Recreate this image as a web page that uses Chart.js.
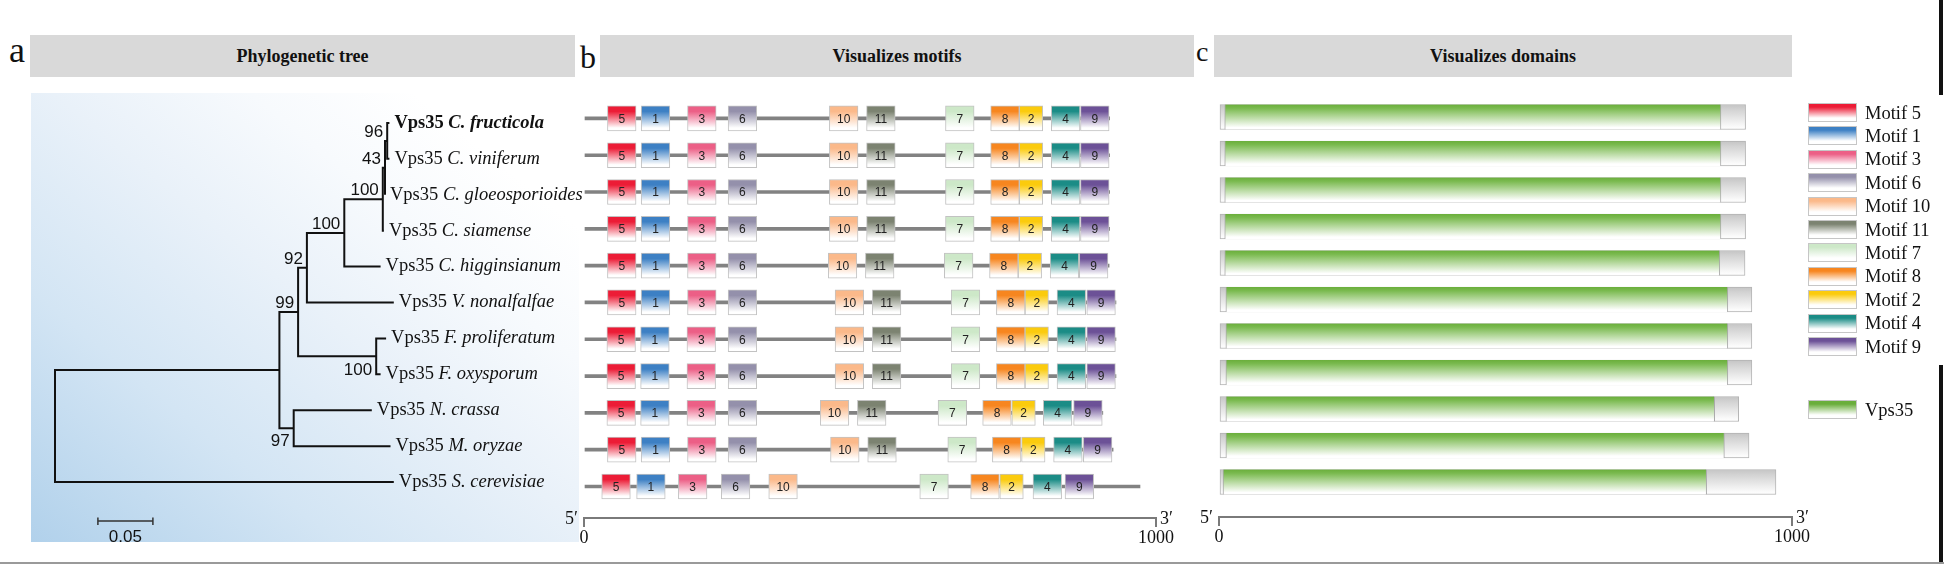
<!DOCTYPE html>
<html><head><meta charset="utf-8">
<script src="https://cdn.jsdelivr.net/npm/chart.js@4.4.1/dist/chart.umd.min.js"></script>
<style>
html,body{margin:0;padding:0;background:#fff;}
#fig{position:relative;width:1944px;height:565px;overflow:hidden;font-family:"Liberation Serif","Times New Roman",serif;color:#111;}
.hdr{position:absolute;top:35px;height:42px;background:#d9d9d9;font-family:"Liberation Serif","Times New Roman",serif;font-weight:bold;font-size:18px;line-height:42px;text-align:center;}
.let{position:absolute;line-height:1;font-family:"Liberation Serif","Times New Roman",serif;}
canvas{position:absolute;top:0;}
.sw{position:absolute;left:1808px;width:49px;height:19px;box-sizing:border-box;border:1px solid #c6c6c6;}
.lt{position:absolute;left:1865px;font-size:18.5px;line-height:20px;white-space:nowrap;font-family:"Liberation Serif","Times New Roman",serif;}
.bar{position:absolute;}
</style></head>
<body>
<div id="fig">
  <div class="let" style="left:9px;top:32px;font-size:36px;">a</div>
  <div class="let" style="left:580px;top:41px;font-size:32px;">b</div>
  <div class="let" style="left:1196px;top:38px;font-size:28px;">c</div>
  <div class="hdr" style="left:30px;width:545px;">Phylogenetic tree</div>
  <div class="hdr" style="left:600px;width:594px;">Visualizes motifs</div>
  <div class="hdr" style="left:1214px;width:578px;">Visualizes domains</div>
  <div class="bar" style="left:31px;top:93px;width:548px;height:449px;background:linear-gradient(to top right,#b1d1eb 0%,#d3e5f4 28%,#e9f1f9 52%,#f7fafd 70%,#ffffff 85%);"></div>
  <canvas id="ct" width="600" height="565" style="left:0px;"></canvas>
  <canvas id="cm" width="660" height="565" style="left:540px;"></canvas>
  <canvas id="cd" width="660" height="565" style="left:1180px;"></canvas>
  <div id="legend"></div>
  <div class="bar" style="left:1939px;top:0;width:4px;height:95px;background:#111;"></div>
  <div class="bar" style="left:1939px;top:365px;width:4px;height:199px;background:#111;"></div>
  <div class="bar" style="left:0;top:562px;width:1944px;height:2px;background:#9a9a9a;"></div>
</div>
<script>
// ---------------- data ----------------
const protein = 'Vps35';
const taxa = ['C. fructicola','C. viniferum','C. gloeosporioides','C. siamense','C. higginsianum',
  'V. nonalfalfae','F. proliferatum','F. oxysporum','N. crassa','M. oryzae','S. cerevisiae'];
const highlightTaxon = 0;
// distance of each tip from the root (substitutions/site)
const tipDepth = [0.304,0.304,0.300,0.299,0.296,0.308,0.301,0.296,0.288,0.305,0.308];
// internal nodes (index 11+): children, distance from root, bootstrap support
const nodeChildren = [[0,1],[11,2],[12,3],[13,4],[14,5],[6,7],[15,16],[8,9],[17,18],[19,10]];
const nodeDepth = [0.302,0.300,0.298,0.263,0.229,0.292,0.221,0.217,0.204,0];
const nodeSupport = [96,43,100,100,92,100,99,97,null,null];
const scaleBarLen = 0.05;

// protein lengths (aa)
const proteinLength = [919,919,919,919,918,930,930,930,907,925,972];
// motifs, in legend order
const motifIds = [5,1,3,6,10,11,7,8,2,4,9];
const motifWidth = [50,50,50,50,50,50,50,50,41,50,50];
const m5  = [41,41,41,41,41,41,40,40,40,41,31];
const m1  = [100,100,100,100,100,100,99,99,99,100,92];
const m3  = [181,181,181,181,181,181,180,180,180,181,165];
const m6  = [252,252,252,252,252,252,252,252,252,252,240];
const m10 = [429,429,429,429,427,439,439,439,413,431,323];
const m11 = [494,494,494,494,492,504,504,504,478,496,null];
const m7  = [632,632,632,632,630,642,642,642,619,636,587];
const m8  = [711,711,711,711,709,721,721,721,697,714,676];
const m2  = [761,761,761,761,759,771,771,771,748,765,727];
const m4  = [817,817,817,817,815,827,827,827,803,821,785];
const m9  = [868,868,868,868,866,879,879,879,856,873,841];
const motifStarts = [m5,m1,m3,m6,m10,m11,m7,m8,m2,m4,m9];
// Vps35 domain
const domainName = 'Vps35';
const domainStart = [10,10,10,10,10,12,12,12,12,12,7];
const domainEnd   = [876,876,876,876,874,888,888,888,865,882,851];
const axisTicks = [0,1000];

// ---------------- styles ----------------
const SERIF = '"Liberation Serif","Times New Roman",serif';
const SANS = '"Liberation Sans",Arial,sans-serif';
const motifColors = ['#ec1c36','#3d80c4','#ec5f86','#9490ab','#fbb98a','#7c8371','#cde8c8','#f7861f','#fbcb0d','#1b8c86','#6c5197'];
const domainColor = '#6aae3b';
const supportBelow = [false,false,false,false,false,true,false,true,false,false];

function rowGrad(c, stops, half){
  const ch = c.chart;
  if (!ch.chartArea || !c.raw || c.raw.y === undefined) return stops[0][1];
  const y = ch.scales.y.getPixelForValue(c.raw.y);
  const g = ch.ctx.createLinearGradient(0, y - half, 0, y + half);
  stops.forEach(s => g.addColorStop(s[0], s[1]));
  return g;
}

Chart.defaults.font.family = SANS;

// ---------------- tree ----------------
const nLeaf = taxa.length;
function nodeY(i){ if (i < nLeaf) return i; const ch = nodeChildren[i-nLeaf]; return (nodeY(ch[0]) + nodeY(ch[ch.length-1]))/2; }
function nodeX(i){ return i < nLeaf ? tipDepth[i] : nodeDepth[i-nLeaf]; }
const treeSets = nodeChildren.map((ch,k) => {
  const d = nodeDepth[k], a = ch[0], b = ch[1];
  return {data:[{x:nodeX(a),y:nodeY(a)},{x:d,y:nodeY(a)},{x:d,y:nodeY(b)},{x:nodeX(b),y:nodeY(b)}],
    showLine:true, borderColor:'#111', borderWidth:2, pointRadius:0, clip:false, tension:0};
});
const treeText = {
  id:'treeText',
  afterDatasetsDraw(chart){
    const ctx = chart.ctx, xs = chart.scales.x, ys = chart.scales.y;
    ctx.save();
    ctx.fillStyle = '#111';
    ctx.textBaseline = 'middle'; ctx.textAlign = 'left';
    taxa.forEach((t,i) => {
      const x = xs.getPixelForValue(tipDepth[i]) + 5, y = ys.getPixelForValue(i);
      const b = i === highlightTaxon ? 'bold ' : '';
      ctx.font = b + '18.5px ' + SERIF;
      ctx.fillText(protein + ' ', x, y);
      const w = ctx.measureText(protein + ' ').width;
      ctx.font = 'italic ' + b + '18.5px ' + SERIF;
      ctx.fillText(t, x + w, y);
    });
    ctx.font = '17px ' + SANS; ctx.textAlign = 'right';
    nodeSupport.forEach((s,k) => {
      if (s == null) return;
      const x = xs.getPixelForValue(nodeDepth[k]) - 4, y = ys.getPixelForValue(nodeY(k + nLeaf));
      if (supportBelow[k]) { ctx.textBaseline = 'top'; ctx.fillText(String(s), x, y + 5); }
      else { ctx.textBaseline = 'alphabetic'; ctx.fillText(String(s), x, y - 4); }
    });
    // scale bar
    const x1 = xs.getPixelForValue(0.039), x2 = xs.getPixelForValue(0.039 + scaleBarLen), yb = 521;
    ctx.strokeStyle = '#333'; ctx.lineWidth = 1.5;
    ctx.beginPath(); ctx.moveTo(x1, yb); ctx.lineTo(x2, yb);
    ctx.moveTo(x1, yb - 3.5); ctx.lineTo(x1, yb + 4); ctx.moveTo(x2, yb - 3.5); ctx.lineTo(x2, yb + 4); ctx.stroke();
    ctx.textAlign = 'center'; ctx.textBaseline = 'middle'; ctx.font = '17px ' + SANS;
    ctx.fillText(String(scaleBarLen), (x1 + x2)/2, 537);
    ctx.restore();
  }
};
new Chart(document.getElementById('ct'), {
  type:'scatter',
  data:{datasets:treeSets},
  options:{responsive:false, animation:false, events:[],
    layout:{padding:{left:55,right:50,top:105,bottom:65}},
    plugins:{legend:{display:false},tooltip:{enabled:false}},
    scales:{x:{type:'linear',min:0,max:0.45,display:false},
            y:{type:'linear',reverse:true,min:-0.5,max:10.5,display:false}}},
  plugins:[treeText]
});

// ---------------- shared axis / prime labels ----------------
function axisOpts(h){
  return {type:'linear', min:0, max:1000, position:'bottom',
    afterBuildTicks:s => { s.ticks = axisTicks.map(v => ({value:v})); },
    afterFit:s => { s.height = h; },
    grid:{drawOnChartArea:false, drawTicks:true, tickLength:9, color:'#7a7a7a', lineWidth:2},
    border:{display:true, color:'#7a7a7a', width:2},
    ticks:{padding:0, autoSkip:false, maxRotation:0, color:'#111', font:{family:SERIF, size:18},
      callback:v => String(v)}};
}
const primes = {
  id:'primes',
  afterDraw(chart){
    const ctx = chart.ctx, a = chart.chartArea;
    ctx.save(); ctx.fillStyle = '#111'; ctx.font = '18px ' + SERIF; ctx.textBaseline = 'alphabetic';
    ctx.textAlign = 'right'; ctx.fillText('5\u2032', a.left - 6, a.bottom + 6);
    ctx.textAlign = 'left'; ctx.fillText('3\u2032', a.right + 4, a.bottom + 6);
    ctx.restore();
  }
};

// ---------------- motifs ----------------
const mSets = [{label:'backbone', data:proteinLength.map((L,i) => ({x:[0,L], y:i})),
  backgroundColor:'#828282', borderWidth:0, barThickness:3, grouped:false, order:1}];
motifIds.forEach((id,k) => {
  const col = motifColors[k];
  mSets.push({label:'Motif ' + id, motifId:id,
    data:motifStarts[k].map((s,i) => s == null ? null : {x:[s, s + motifWidth[k]], y:i}).filter(Boolean),
    backgroundColor:c => rowGrad(c, [[0,col],[0.22,col],[0.88,'#ffffff'],[1,'#ffffff']], 12.5),
    borderColor:'#c2c2c2', borderWidth:1, borderSkipped:false, barThickness:25, grouped:false, order:0});
});
const motifNums = {
  id:'motifNums',
  afterDatasetsDraw(chart){
    const ctx = chart.ctx;
    ctx.save(); ctx.fillStyle = '#222'; ctx.font = '12px ' + SANS; ctx.textAlign = 'center'; ctx.textBaseline = 'middle';
    chart.data.datasets.forEach((ds,di) => {
      if (!ds.motifId) return;
      chart.getDatasetMeta(di).data.forEach(el => { ctx.fillText(String(ds.motifId), (el.x + el.base)/2, el.y + 1); });
    });
    ctx.restore();
  }
};
new Chart(document.getElementById('cm'), {
  type:'bar',
  data:{datasets:mSets},
  options:{indexAxis:'y', responsive:false, animation:false, events:[],
    layout:{padding:{left:44,right:44,top:100,bottom:0}},
    plugins:{legend:{display:false},tooltip:{enabled:false}},
    scales:{x:axisOpts(47), y:{type:'linear',reverse:true,offset:false,min:-0.5,max:10.856,display:false}}},
  plugins:[motifNums, primes]
});

// ---------------- domains ----------------
const dSets = [
  {label:'protein', data:proteinLength.map((L,i) => ({x:[0,L], y:i})),
   backgroundColor:c => rowGrad(c, [[0,'#c4c4c4'],[0.2,'#d2d2d2'],[0.9,'#fbfbfb'],[1,'#fdfdfd']], 12.5),
   borderColor:'#b4b4b4', borderWidth:1, borderSkipped:false, barThickness:25, grouped:false, order:1},
  {label:domainName, data:domainStart.map((s,i) => ({x:[s, domainEnd[i]], y:i})),
   backgroundColor:c => rowGrad(c, [[0,domainColor],[0.15,'#7aba4f'],[0.92,'#ffffff'],[1,'#ffffff']], 12.5),
   borderColor:'#a9a9a9', borderWidth:{left:1,right:1,top:0,bottom:0}, borderSkipped:false, barThickness:25, grouped:false, order:0}
];
new Chart(document.getElementById('cd'), {
  type:'bar',
  data:{datasets:dSets},
  options:{indexAxis:'y', responsive:false, animation:false, events:[],
    layout:{padding:{left:39,right:48,top:98.75,bottom:0}},
    plugins:{legend:{display:false},tooltip:{enabled:false}},
    scales:{x:axisOpts(48), y:{type:'linear',reverse:true,offset:false,min:-0.5,max:10.96,display:false}}},
  plugins:[primes]
});

// ---------------- legend ----------------
const lg = document.getElementById('legend');
function addLegend(top, color, text){
  const s = document.createElement('div'); s.className = 'sw'; s.style.top = top + 'px';
  s.style.background = 'linear-gradient(to bottom,' + color + ' 0%,' + color + ' 18%,#ffffff 82%,#ffffff 100%)';
  lg.appendChild(s);
  const t = document.createElement('div'); t.className = 'lt'; t.style.top = (top - 0.5) + 'px'; t.textContent = text;
  lg.appendChild(t);
}
motifIds.forEach((id,k) => addLegend(103 + k*23.4, motifColors[k], 'Motif ' + id));
addLegend(400, domainColor, domainName);
</script>
</body></html>
